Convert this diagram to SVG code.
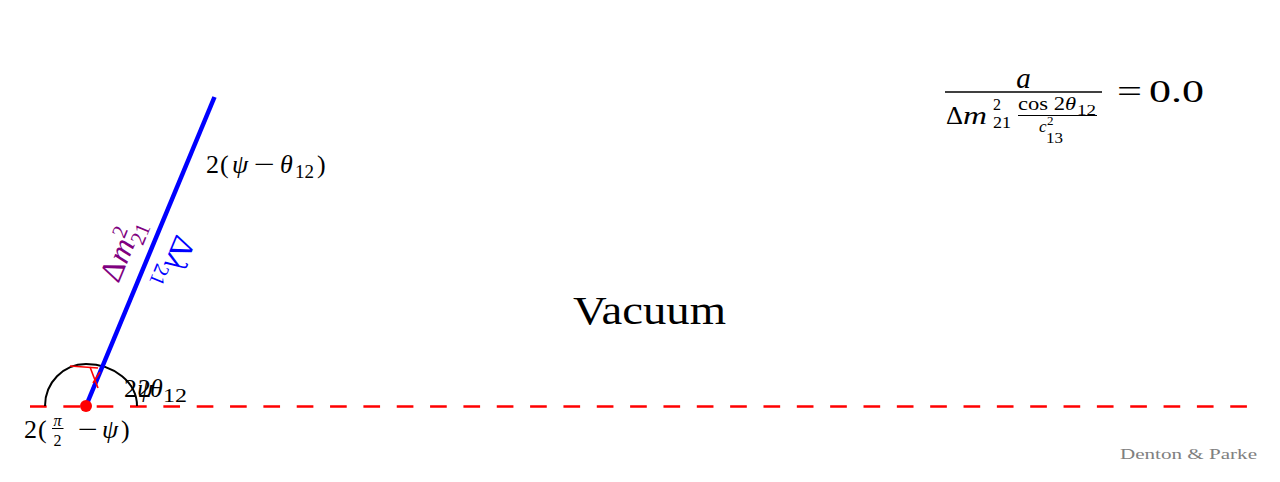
<svg xmlns="http://www.w3.org/2000/svg" width="1280" height="482" viewBox="0 0 1280 482">
<style>
text{font-family:"Liberation Serif","DejaVu Serif",serif;fill:#000}
.it{font-style:italic}
.l{font-size:26px}
.s{font-size:18px}
</style>
<rect width="1280" height="482" fill="#fff"/>
<g id="connectors">
<line x1="30" y1="406.5" x2="1250" y2="406.5" stroke="#ff0000" stroke-width="2.5" stroke-dasharray="16.67 16.67"/>
<path d="M45,406 A41,42 0 0 1 86,364 A51,42 0 0 1 137,406" fill="none" stroke="#000" stroke-width="2"/>
<line x1="86" y1="406" x2="214.5" y2="97" stroke="#0000ff" stroke-width="4.5"/>
<g stroke="#ff0000" stroke-width="1.6">
<line x1="70" y1="366" x2="98" y2="368"/>
<line x1="90" y1="367" x2="98" y2="388"/>
<line x1="93" y1="383" x2="100" y2="372"/>
</g>
</g>
<g id="origin"><circle cx="86" cy="406" r="6" fill="#ff0000"/></g>
<g id="line-labels">
<text transform="translate(131,254) rotate(-67.5)" text-anchor="middle" style="fill:#800080;font-size:32px">Δ<tspan class="it">m</tspan><tspan dy="-12" style="font-size:21px">2</tspan><tspan dx="-10" dy="20" style="font-size:21px">21</tspan></text>
<text transform="translate(166,259) rotate(112.5)" text-anchor="middle" style="fill:#0000ff;font-size:32px">Δ<tspan class="it">λ</tspan><tspan dy="7" style="font-size:21px">21</tspan></text>
</g>
<g id="angle-upper">
<text class="l" x="206" y="173">2</text>
<text class="l" x="220" y="173">(</text>
<text class="l it" x="232" y="173">ψ</text>
<text class="l" x="254" y="173" textLength="21" lengthAdjust="spacingAndGlyphs">−</text>
<text class="l it" x="280" y="173">θ</text>
<text class="s" x="295" y="178" textLength="19" lengthAdjust="spacingAndGlyphs">12</text>
<text class="l" x="317" y="173">)</text>
</g>
<g id="angle-psi">
<text class="l" x="124" y="397">2</text>
<text class="l it" x="137" y="397">ψ</text>
</g>
<g id="angle-theta">
<text class="l" x="138" y="397">2</text>
<text class="l it" x="150" y="397">θ</text>
<text class="s" x="163" y="402" textLength="24" lengthAdjust="spacingAndGlyphs">12</text>
</g>
<g id="angle-lower">
<text class="l" x="24" y="438">2</text>
<text class="l" x="38" y="438">(</text>
<text x="57.5" y="426" text-anchor="middle" class="it" style="font-size:16px">π</text>
<line x1="52" y1="428.5" x2="63.5" y2="428.5" stroke="#000" stroke-width="1"/>
<text x="57.5" y="446" text-anchor="middle" style="font-size:16px">2</text>
<text class="l" x="78" y="438" textLength="20" lengthAdjust="spacingAndGlyphs">−</text>
<text class="l it" x="102" y="438">ψ</text>
<text class="l" x="121" y="438">)</text>
</g>
<g id="formula">
<text x="1023.5" y="88" text-anchor="middle" class="it" style="font-size:29px">a</text>
<line x1="945" y1="92" x2="1102" y2="92" stroke="#000" stroke-width="1.6"/>
<text x="946" y="124" style="font-size:25px" textLength="17" lengthAdjust="spacingAndGlyphs">Δ</text>
<text x="963" y="124" class="it" style="font-size:25px" textLength="24" lengthAdjust="spacingAndGlyphs">m</text>
<text x="993" y="110" style="font-size:16px">2</text>
<text x="993" y="128" style="font-size:16px" textLength="18" lengthAdjust="spacingAndGlyphs">21</text>
<text x="1018" y="110" style="font-size:18px" textLength="58" lengthAdjust="spacingAndGlyphs">cos 2<tspan class="it">θ</tspan></text>
<text x="1077" y="115" style="font-size:14px" textLength="19" lengthAdjust="spacingAndGlyphs">12</text>
<line x1="1018" y1="115.5" x2="1097" y2="115.5" stroke="#000" stroke-width="1.1"/>
<text x="1039" y="132" class="it" style="font-size:17px">c</text>
<text x="1047" y="125" style="font-size:13px">2</text>
<text x="1046" y="143" style="font-size:14px" textLength="17" lengthAdjust="spacingAndGlyphs">13</text>
<text x="1117" y="102" style="font-size:31px" textLength="25" lengthAdjust="spacingAndGlyphs">=</text>
<text x="1149" y="102" style="font-size:31px" textLength="55" lengthAdjust="spacingAndGlyphs">0.0</text>
</g>
<g id="title"><text x="573" y="324" style="font-size:39px" textLength="153" lengthAdjust="spacingAndGlyphs">Vacuum</text></g>
<g id="credit"><text x="1120" y="459" style="font-size:14px;fill:#808080" textLength="137" lengthAdjust="spacingAndGlyphs">Denton &amp; Parke</text></g>
</svg>
